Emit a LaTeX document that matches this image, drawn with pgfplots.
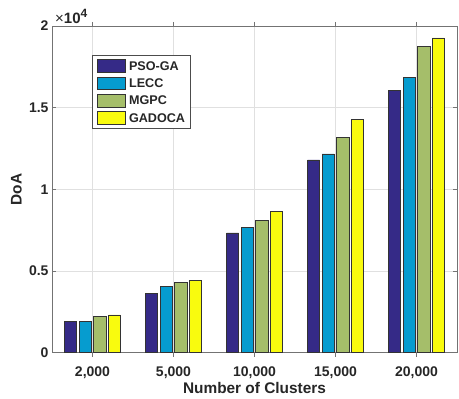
\documentclass[border=0pt]{standalone}
\usepackage{fontspec}
\setmainfont{Liberation Sans}
\usepackage{pgfplots}
\pgfplotsset{compat=1.18}
\definecolor{c1}{RGB}{53,42,135}
\definecolor{c2}{RGB}{6,156,207}
\definecolor{c3}{RGB}{165,190,106}
\definecolor{c4}{RGB}{249,251,14}
\begin{document}
\begin{tikzpicture}
\begin{axis}[
 name=ax,
 width=405bp, height=326.7bp, scale only axis,
 xmin=0.5, xmax=5.5, ymin=0, ymax=20000,
 xtick={1,2,3,4,5}, xticklabels={{2,000},{5,000},{10,000},{15,000},{20,000}},
 ytick={0,5000,10000,15000,20000}, yticklabels={0,0.5,1,1.5,2},
 scaled y ticks=false,
 grid=major, major grid style={draw=black!12, line width=0.5bp},
 axis line style={draw=black!55, line width=0.6bp},
 tick style={draw=black!55, line width=0.6bp}, major tick length=4bp,
 ticklabel style={font=\fontsize{14bp}{16bp}\selectfont\bfseries, text=black!85},
 xticklabel style={anchor=base, yshift=-20bp},
 /pgf/number format/assume math mode=true,
 xlabel={Number of Clusters}, ylabel={DoA},
 label style={font=\fontsize{15.4bp}{17bp}\selectfont\bfseries, text=black!85},
 xlabel style={at={(axis description cs:0.5,-0.1243)}, anchor=base},
 ylabel style={at={(axis description cs:-0.0877,0.5)}, anchor=center},
 ybar, bar width=0.15,
 legend cell align=left,
 legend image code/.code={\draw[#1,draw=black!80,line width=0.6bp] (0bp,-6.35bp) rectangle (28bp,6.35bp);},
 legend style={at={(axis description cs:0.098,0.9097)}, anchor=north west, draw=black!70, line width=0.6bp,
   font=\fontsize{12.6bp}{14bp}\selectfont\bfseries, text=black!85, inner xsep=5.5bp, inner ysep=3.5bp,
   nodes={inner sep=0bp, text depth=0bp}, row sep=4bp, column sep=3bp},
]
\addplot[fill=c1, draw=black!80, line width=0.6bp, bar shift=-0.27] coordinates {(1,1940) (2,3610) (3,7330) (4,11800) (5,16040)};
\addplot[fill=c2, draw=black!80, line width=0.6bp, bar shift=-0.09] coordinates {(1,1940) (2,4070) (3,7680) (4,12170) (5,16840)};
\addplot[fill=c3, draw=black!80, line width=0.6bp, bar shift=0.09] coordinates {(1,2230) (2,4310) (3,8080) (4,13190) (5,18760)};
\addplot[fill=c4, draw=black!80, line width=0.6bp, bar shift=0.27] coordinates {(1,2310) (2,4450) (3,8660) (4,14290) (5,19270)};
\legend{PSO-GA,LECC,MGPC,GADOCA}
\end{axis}
\node[anchor=base west, inner sep=0, text=black!85] at ([xshift=3bp, yshift=2bp]ax.north west) {\fontsize{15bp}{17bp}\selectfont ×\textbf{10}\raisebox{6bp}{\fontsize{12bp}{13bp}\selectfont\bfseries 4}};
\pgfresetboundingbox
\path (-52bp,-46.3bp) rectangle (407bp,352.7bp);
\end{tikzpicture}
\end{document}
